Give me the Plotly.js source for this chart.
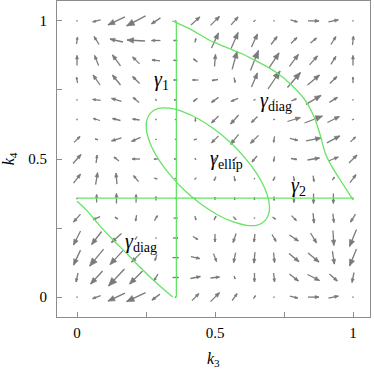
<!DOCTYPE html>
<html>
<head>
<meta charset="utf-8">
<script src="https://cdn.plot.ly/plotly-3.0.1.min.js"></script>
<style>
  html, body { margin: 0; padding: 0; background: #fff; }
  #plot { width: 374px; height: 372px; }
</style>
</head>
<body>
<div id="plot"></div>
<script>
// grid of the vector field (15 x 15), rows listed from k4 = 1 down to k4 = 0
const k3Grid = [0, 0.071, 0.143, 0.214, 0.286, 0.357, 0.429, 0.5, 0.571, 0.643, 0.714, 0.786, 0.857, 0.929, 1];
const k4Grid = [1, 0.929, 0.857, 0.786, 0.714, 0.643, 0.571, 0.5, 0.429, 0.357, 0.286, 0.214, 0.143, 0.071, 0];

// field components (units: drawn length in px)
const fieldU = [
  [0.5, -8, -17, -19, -9, 0, 9, 9, 7, 2, 1, 7, 11, 10, 0.5],
  [1, -5, -13, -18, -9, -4, 1, 7, 7, 6, 6, 6, 6, 5, 1],
  [0, -4, -8, -7, -8, -4, -4, 1, 5, 8, 10, 9, 8, 5, 0],
  [-1, -7, -8, -7, -2, -4, -6, -6, 1, 6, 12, 13, 12, 7, 0],
  [0.5, -8, -10, -6, -1, -3, -4, -7, -7, -2, 1, 5, 15, 8, 1],
  [-1, -7, -8, -7, 1, 0, 0, -7, -8, -6, -2, 13, 18, 12, 2],
  [6, -3, -10, -9, -1, 0, -3, -7, -8, -8, -1, 8, 15, 13, 5],
  [8, 1, -5, -8, -4, -3, 1, -2, -4, -5, -1, 6, 12, 10, 8],
  [7, 2, -1, -5, -3, 2, 2, -2, 1, 0, -2, 1, 1, 2, 6],
  [0, 0, 0, 0, 0, 0, 0, 0, 0, 0, 0, 0, 0, 0, 0],
  [-7, -7, -3, -1, 3, 4, 1, 2, 3, 1, 3, 5, 1, 1, -5],
  [-7, -10, -10, -2, 1, 5, 5, 0, -3, -1, 4, 9, 6, 1, -7],
  [-7, -14, -13, -9, -2, 6, 9, 3, -2, -1, 1, 10, 11, 2, -7],
  [-2, -12, -16, -13, -4, 6, 10, 9, 1, 0, 1, 9, 12, 8, -2],
  [0.5, -8, -17, -19, -8, 0, 7, 9, 5, 2, 1, 8, 11, 10, 0.5]
];
const fieldV = [
  [0, -2, -8, -10, -6, 0, 8, 9, 8, 2, 0, -2, 0, 2, 0],
  [7, 8, 3, 1, 0, 0, 4, 15, 16, 13, 8, 6, 5, 8, 9],
  [10, 10, 11, 7, 1, 0, 3, 12, 18, 20, 15, 12, 9, 8, 10],
  [6, 10, 10, 7, 1, 0, 0, -1, -5, 14, 18, 15, 10, 7, 6],
  [0, 1, 3, 5, 2, 0, -3, -5, -3, -1, 0, 2, 9, 5, 0],
  [0, 2, 2, 1, 0, 0, -4, -7, -9, -6, -1, 4, 7, 6, 1],
  [6, 1, -3, -4, 0, 0, -1, -7, -10, -8, -6, -2, 3, 7, 5],
  [9, 8, 4, 0, 0, 0, -2, -3, -4, -6, -5, -1, 2, 4, 8],
  [9, 12, 11, 6, 1, 0, 2, -4, -5, -1, -4, -5, -6, 3, 8],
  [0, 8, 10, 8, 4, 0, 2, 3, -3, -3, -4, -8, -10, -10, 0],
  [-8, -3, 2, -6, 5, 0, -4, 4, -3, 0, -2, -5, -10, -9, -8],
  [-14, -13, -9, -3, -1, 0, -3, -8, -9, -8, -7, -6, -10, -15, -17],
  [-15, -17, -14, -9, -6, 0, -2, -8, -10, -11, -10, -8, -9, -13, -17],
  [-9, -13, -17, -13, -7, 0, 2, 1, -3, -9, -9, -7, -6, -7, -10],
  [0, -3, -8, -9, -6, 0, 7, 9, 7, 3, 0, -2, 0, 2, 0]
];

// curves
const gamma1K3 = [0.36, 0.36];
const gamma1K4 = [0, 1];
const gamma2K3 = [0, 1];
const gamma2K4 = [0.358, 0.358];
const diagLowK3 = [0, 0.035, 0.083, 0.132, 0.18, 0.228, 0.277, 0.347];
const diagLowK4 = [0.347, 0.314, 0.258, 0.206, 0.158, 0.109, 0.061, 0];
const diagHighK3 = [0.345, 0.41, 0.48, 0.51, 0.6, 0.634, 0.72, 0.78, 0.83, 0.862, 0.883, 0.9, 0.922, 0.95, 0.977, 1];
const diagHighK4 = [1, 0.97, 0.93, 0.917, 0.88, 0.863, 0.815, 0.765, 0.708, 0.645, 0.58, 0.52, 0.475, 0.43, 0.388, 0.352];
const ellipK3 = [0.682, 0.696, 0.695, 0.679, 0.649, 0.607, 0.556, 0.499, 0.441, 0.385, 0.335, 0.294, 0.266, 0.252, 0.253, 0.269, 0.299, 0.341, 0.392, 0.449, 0.507, 0.564, 0.614, 0.654, 0.682];
const ellipK4 = [0.278, 0.307, 0.348, 0.397, 0.451, 0.506, 0.56, 0.607, 0.645, 0.671, 0.684, 0.683, 0.666, 0.637, 0.596, 0.547, 0.493, 0.438, 0.384, 0.337, 0.299, 0.273, 0.26, 0.261, 0.278];

const subStyle = "<span style='font-size:14px'>";
const curveLabels = ['1', 'diag', 'ellip', '2', 'diag'].map(function (s) {
  return '<i>γ</i><sub>' + subStyle + s + '</span></sub>';
});
const labelK3 = [0.306, 0.721, 0.543, 0.804, 0.232];
const labelK4 = [0.785, 0.708, 0.5, 0.4, 0.197];

const pxPerUnit = 276;
const arrowColor = '#7a7a7a';
const green = '#66e466';
const serif = 'Liberation Serif';

// arrows centred on the grid points
const shaftX = [], shaftY = [], headX = [], headY = [];
k4Grid.forEach(function (y0, j) {
  k3Grid.forEach(function (x0, i) {
    let dx = fieldU[j][i] / pxPerUnit;
    let dy = fieldV[j][i] / pxPerUnit;
    let len = Math.hypot(dx, dy);
    const minLen = 1.5 / pxPerUnit;
    if (len < minLen) {
      if (len === 0) { dx = minLen; dy = 0; } else { dx = dx / len * minLen; dy = dy / len * minLen; }
      len = minLen;
    }
    const ux = dx / len, uy = dy / len;
    const tipX = x0 + dx / 2, tipY = y0 + dy / 2;
    shaftX.push(x0 - dx / 2, tipX, null);
    shaftY.push(y0 - dy / 2, tipY, null);
    if (len * pxPerUnit >= 3) {
      const h = 0.36 * len, w = 0.15 * len;
      const bx = tipX - ux * h, by = tipY - uy * h;
      headX.push(tipX, bx - uy * w, bx + uy * w, tipX, null);
      headY.push(tipY, by + ux * w, by - ux * w, tipY, null);
    }
  });
});

const traces = [
  { x: shaftX, y: shaftY, mode: 'lines', type: 'scatter', line: { color: arrowColor, width: 1.3 }, hoverinfo: 'skip' },
  { x: headX, y: headY, mode: 'lines', type: 'scatter', fill: 'toself', fillcolor: arrowColor, line: { color: arrowColor, width: 0.6 }, hoverinfo: 'skip' },
  { x: gamma1K3, y: gamma1K4, mode: 'lines', type: 'scatter', line: { color: green, width: 1.3 } },
  { x: gamma2K3, y: gamma2K4, mode: 'lines', type: 'scatter', line: { color: green, width: 1.3 } },
  { x: diagLowK3, y: diagLowK4, mode: 'lines', type: 'scatter', line: { color: green, width: 1.3, shape: 'spline' } },
  { x: diagHighK3, y: diagHighK4, mode: 'lines', type: 'scatter', line: { color: green, width: 1.3, shape: 'spline' } },
  { x: ellipK3, y: ellipK4, mode: 'lines', type: 'scatter', line: { color: green, width: 1.3, shape: 'spline' } }
];

const annotations = curveLabels.map(function (t, n) {
  return {
    x: labelK3[n], y: labelK4[n], xref: 'x', yref: 'y', showarrow: false,
    text: t, font: { family: serif, size: 20, color: '#000' }
  };
});
// x axis title, kept as a note so it can sit right at the bottom edge
annotations.push({
  x: 0.5, y: -0.135, xref: 'paper', yref: 'paper', showarrow: false,
  xanchor: 'center', yanchor: 'middle',
  text: '<i>k</i><sub>3</sub>', font: { family: serif, size: 16, color: '#000' }
});

const axisStyle = {
  showgrid: false, zeroline: false, showline: true, mirror: true,
  linecolor: '#8c8c8c', linewidth: 1,
  ticks: 'inside', ticklen: 5, tickcolor: '#8c8c8c', tickwidth: 1,
  tickvals: [0, 0.5, 1], ticktext: ['0', '0.5', '1'],
  minor: { tickvals: [0.25, 0.75], ticks: 'inside', ticklen: 5, tickcolor: '#8c8c8c', tickwidth: 1, showgrid: false },
  tickfont: { family: serif, size: 15, color: '#000' }
};

const layout = {
  width: 374, height: 372,
  margin: { l: 57, r: 4, t: 1, b: 55 },
  showlegend: false,
  paper_bgcolor: '#fff', plot_bgcolor: '#fff',
  xaxis: Object.assign({}, axisStyle, {
    range: [-0.0725, 1.0616],
    ticklabelstandoff: 2
  }),
  yaxis: Object.assign({}, axisStyle, {
    range: [-0.072, 1.072],
    ticklabelstandoff: 6,
    title: { text: '<i>k</i><sub>4</sub>', font: { family: serif, size: 16, color: '#000' }, standoff: 12 }
  }),
  annotations: annotations
};

Plotly.newPlot('plot', traces, layout, { displayModeBar: false, staticPlot: true });
</script>
</body>
</html>
